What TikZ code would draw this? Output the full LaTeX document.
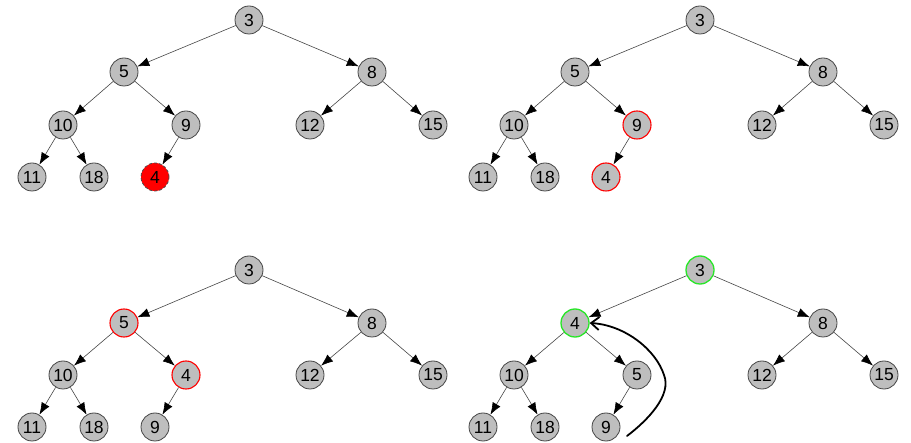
\documentclass[tikz,border=0pt]{standalone}
\usepackage{fontspec}
\setmainfont{Liberation Sans}
\usetikzlibrary{arrows.meta}
\definecolor{nodegray}{RGB}{190,190,190}
\definecolor{edgegray}{RGB}{70,70,70}
\definecolor{hlgreen}{RGB}{40,230,40}
\begin{document}
\begin{tikzpicture}[x=1pt,y=-1pt,
  nd/.style={circle,draw=edgegray,fill=nodegray,line width=0.8pt,minimum size=28pt,inner sep=0pt,font=\fontsize{17.5}{17.5}\selectfont},
  rednd/.style={nd,fill=red,draw=black!70,densely dashed},
  redring/.style={nd,draw=red,line width=1.1pt},
  greenring/.style={nd,draw=hlgreen,line width=1.3pt},
  ed/.style={draw=edgegray,line width=0.6pt,-{Latex[length=12pt,width=9pt,color=black]}}]
\useasboundingbox (0,0) rectangle (911,443);
% Tree A (top-left)
\node[nd] (a3) at (249,20) {3};
\node[nd] (a5) at (124,72) {5};
\node[nd] (a8) at (372,72) {8};
\node[nd] (a10) at (63,125) {10};
\node[nd] (a9) at (186,125) {9};
\node[nd] (a12) at (310,125) {12};
\node[nd] (a15) at (433,125) {15};
\node[nd] (a11) at (32,177) {11};
\node[nd] (a18) at (94,177) {18};
\node[rednd] (a4) at (155,177) {4};
\draw[ed] (a3)--(a5); \draw[ed] (a3)--(a8);
\draw[ed] (a5)--(a10); \draw[ed] (a5)--(a9);
\draw[ed] (a8)--(a12); \draw[ed] (a8)--(a15);
\draw[ed] (a10)--(a11); \draw[ed] (a10)--(a18);
\draw[ed] (a9)--(a4);
% Tree B (top-right)
\node[nd] (b3) at (700,20) {3};
\node[nd] (b5) at (575,72) {5};
\node[nd] (b8) at (823,72) {8};
\node[nd] (b10) at (514,125) {10};
\node[redring] (b9) at (637,125) {9};
\node[nd] (b12) at (762,125) {12};
\node[nd] (b15) at (884,125) {15};
\node[nd] (b11) at (483,177) {11};
\node[nd] (b18) at (545,177) {18};
\node[redring] (b4) at (606,177) {4};
\draw[ed] (b3)--(b5); \draw[ed] (b3)--(b8);
\draw[ed] (b5)--(b10); \draw[ed] (b5)--(b9);
\draw[ed] (b8)--(b12); \draw[ed] (b8)--(b15);
\draw[ed] (b10)--(b11); \draw[ed] (b10)--(b18);
\draw[ed] (b9)--(b4);
% Tree C (bottom-left)
\node[nd] (c3) at (249,270) {3};
\node[redring] (c5) at (124,323) {5};
\node[nd] (c8) at (372,323) {8};
\node[nd] (c10) at (63,375) {10};
\node[redring] (c4) at (186,375) {4};
\node[nd] (c12) at (310,375) {12};
\node[nd] (c15) at (433,375) {15};
\node[nd] (c11) at (32,427) {11};
\node[nd] (c18) at (94,427) {18};
\node[nd] (c9) at (155,427) {9};
\draw[ed] (c3)--(c5); \draw[ed] (c3)--(c8);
\draw[ed] (c5)--(c10); \draw[ed] (c5)--(c4);
\draw[ed] (c8)--(c12); \draw[ed] (c8)--(c15);
\draw[ed] (c10)--(c11); \draw[ed] (c10)--(c18);
\draw[ed] (c4)--(c9);
% Tree D (bottom-right)
\node[greenring] (d3) at (700,270) {3};
\node[greenring] (d4) at (575,323) {4};
\node[nd] (d8) at (823,323) {8};
\node[nd] (d10) at (514,375) {10};
\node[nd] (d5) at (637,375) {5};
\node[nd] (d12) at (762,375) {12};
\node[nd] (d15) at (884,375) {15};
\node[nd] (d11) at (483,427) {11};
\node[nd] (d18) at (545,427) {18};
\node[nd] (d9) at (606,427) {9};
\draw[ed] (d3)--(d4); \draw[ed] (d3)--(d8);
\draw[ed] (d4)--(d10); \draw[ed] (d4)--(d5);
\draw[ed] (d8)--(d12); \draw[ed] (d8)--(d15);
\draw[ed] (d10)--(d11); \draw[ed] (d10)--(d18);
\draw[ed] (d5)--(d9);
% hand-drawn arrow
\coordinate (hs) at (627,436);
\draw[line width=1.8pt,line cap=round,-{Straight Barb[length=8pt,width=13pt]}]
  (hs) .. controls (648,420) and (672,395) .. (664,375)
  .. controls (656,350) and (625,325) .. (d4.east);
\end{tikzpicture}
\end{document}
